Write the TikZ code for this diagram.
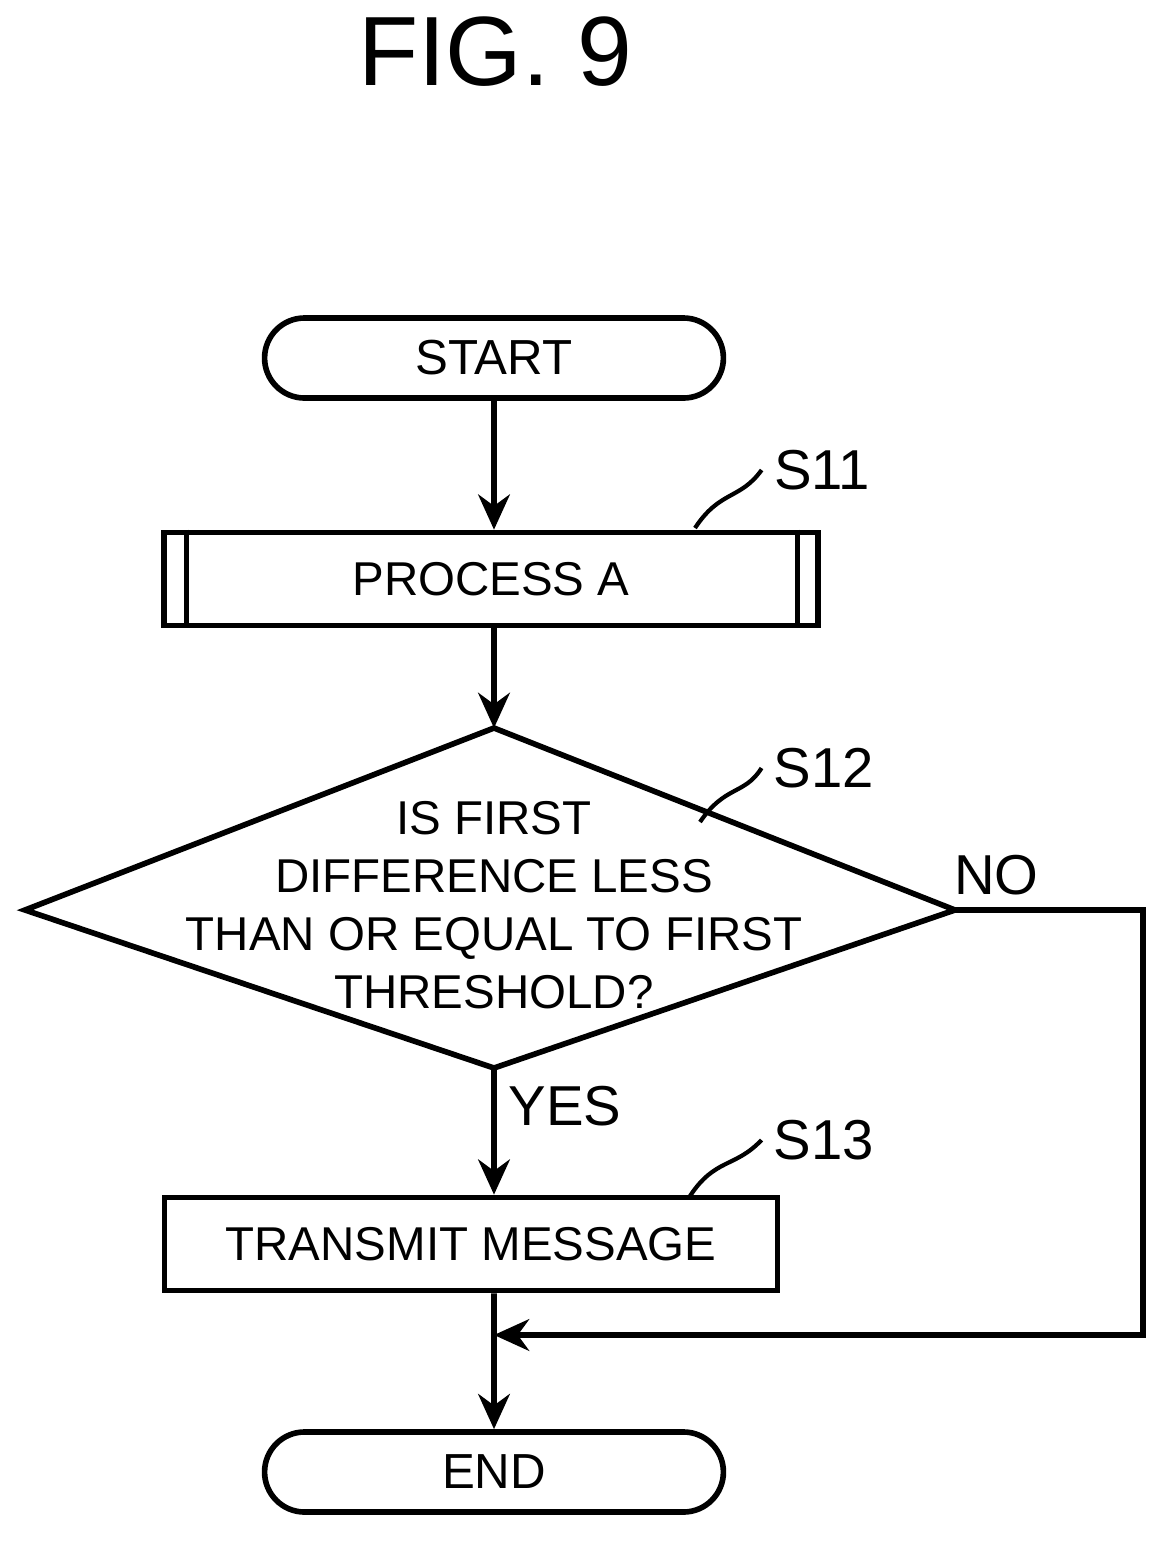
\documentclass[tikz,border=0pt]{standalone}
\usepackage{fontspec}
\setmainfont{Liberation Sans}
\usetikzlibrary{shapes.geometric,shapes.misc,positioning,arrows.meta}
\tikzset{
  term/.style={rounded rectangle, draw, line width=1.6pt, minimum width=4.82cm, minimum height=0.8cm, font=\fontsize{14}{18}\selectfont},
  proc/.style={rectangle, draw, line width=1.6pt, minimum height=0.93cm, font=\fontsize{13.5}{18}\selectfont},
  dectext/.style={align=center, font=\fontsize{13.5}{16.5}\selectfont},
  flow/.style={line width=1.6pt, -{Stealth[length=10pt,width=9pt]}},
  lab/.style={font=\fontsize{16}{19}\selectfont},
  lead/.style={line width=1.2pt}
}
\begin{document}
\begin{tikzpicture}[x=0.01cm,y=-0.01cm]
  \useasboundingbox (0,0) rectangle (1170,1547);
  \node[font=\fontsize{28}{32}\selectfont] (title) at (495,52) {FIG. 9};

  \node[term] (start) at (494,358) {START};
  \node[proc, minimum width=6.53cm] (procA) at (491,579) {PROCESS A};
  \draw[line width=1.6pt] ([xshift=0.25cm]procA.north west) -- ([xshift=0.25cm]procA.south west);
  \draw[line width=1.6pt] ([xshift=-0.23cm]procA.north east) -- ([xshift=-0.23cm]procA.south east);

  % decision
  \coordinate (dtop) at (494,728);
  \coordinate (dleft) at (25,910);
  \coordinate (dright) at (955,910);
  \coordinate (dbot) at (494,1068);
  \draw[line width=1.6pt] (dtop) -- (dright) -- (dbot) -- (dleft) -- cycle;
  \node[dectext] (check) at (494,905) {IS FIRST\\DIFFERENCE LESS\\THAN OR EQUAL TO FIRST\\THRESHOLD?};

  \node[proc, minimum width=6.13cm] (send) at (471,1244) {TRANSMIT MESSAGE};
  \node[term] (end) at (494,1472) {END};

  % step labels
  \node[lab] (s11) at (822,470) {S11};
  \node[lab] (s12) at (824,768) {S12};
  \node[lab] (s13) at (824,1140) {S13};
  \draw[lead] (695,528) .. controls (720,490) and (740,500) .. (s11.west);
  \draw[lead] (700,822) .. controls (725,785) and (745,795) .. (s12.west);
  \draw[lead] (690,1196) .. controls (715,1158) and (735,1168) .. (s13.west);

  % connectors
  \coordinate (join) at (494,1335);
  \coordinate (rt) at (1143,910);
  \draw[flow] (start) -- (start.south |- procA.north);
  \draw[flow] (start.south |- procA.south) -- (dtop);
  \draw[flow] (dbot) -- node[lab, right, pos=0.3] {YES} (dbot |- send.north);
  \draw[flow] (dbot |- send.south) -- (end);
  \draw[flow] (dright) -- node[lab, above, pos=0.22] {NO} (rt) |- (join);
\end{tikzpicture}
\end{document}
